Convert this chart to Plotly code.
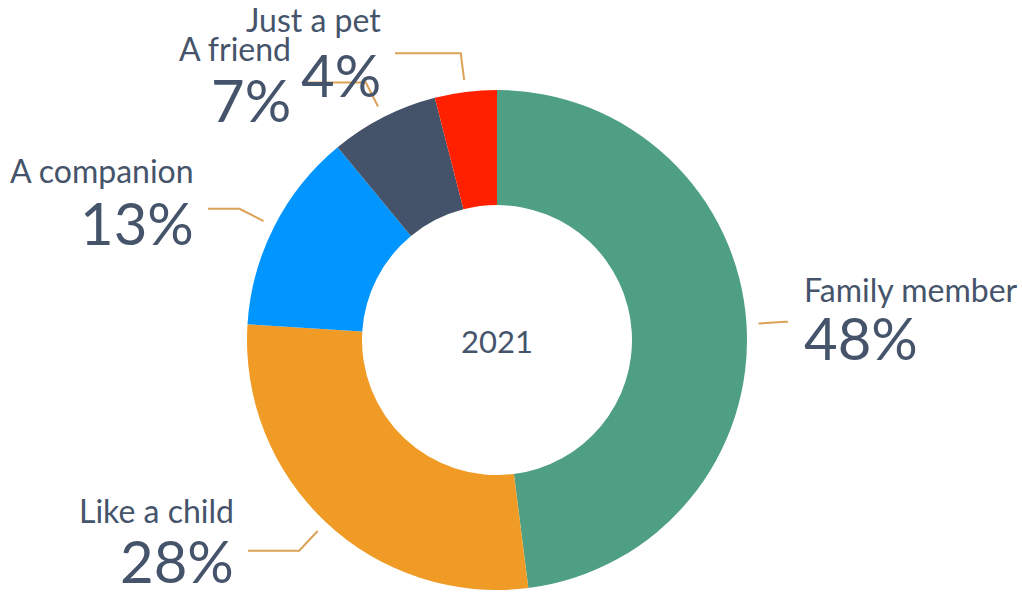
import math
import plotly.graph_objects as go

# Survey answers: how owners see their pet (2021)
categories = ["Family member", "Like a child", "A companion", "A friend", "Just a pet"]
shares = [48, 28, 13, 7, 4]
center_label = "2021"

slice_colors = ["#4e9f84", "#f09b26", "#0095ff", "#45536a", "#ff2000"]
text_color = "#45546b"
leader_color = "#d9a257"

W, H = 1022, 595
CX, CY, R_OUT, R_IN = 497, 340, 250, 135
NAME_SIZE, PCT_SIZE = 32, 58

# label layout: end of the horizontal leader, text anchor side, text baselines
label_layout = {
    "Family member": dict(hx=788, side="left", name_base=302, pct_base=360),
    "Like a child": dict(hx=248, side="right", name_base=523, pct_base=583),
    "A companion": dict(hx=208, side="right", name_base=183, pct_base=245),
    "A friend": dict(hx=305, side="right", name_base=61, pct_base=122, tx=292),
    "Just a pet": dict(hx=395, side="right", name_base=32, pct_base=97),
}


def px(x):
    return x / W


def py(y):
    return 1 - y / H


def mid_from_base(base, size):
    # centre of the text box for a given baseline (Lato metrics)
    return base - 0.387 * size


fig = go.Figure(
    go.Pie(
        labels=categories,
        values=shares,
        hole=R_IN / R_OUT,
        sort=False,
        direction="clockwise",
        rotation=0,
        marker=dict(colors=slice_colors, line=dict(width=0)),
        textinfo="none",
        hoverinfo="label+percent",
        showlegend=False,
        domain=dict(x=[px(CX - R_OUT), px(CX + R_OUT)], y=[py(CY + R_OUT), py(CY - R_OUT)]),
    )
)

shapes = []
annotations = []
total = sum(shares)
cum = 0.0
for name, v in zip(categories, shares):
    mid = (cum + v / 2) / total
    cum += v
    th = 2 * math.pi * mid
    sx, sy = math.sin(th), -math.cos(th)
    x1, y1 = CX + 262 * sx, CY + 262 * sy
    x2, y2 = CX + 289 * sx, CY + 289 * sy
    lay = label_layout[name]
    hx = lay["hx"]
    shapes.append(
        dict(
            type="path",
            xref="paper",
            yref="paper",
            path=f"M {px(x1)} {py(y1)} L {px(x2)} {py(y2)} L {px(hx)} {py(y2)}",
            line=dict(color=leader_color, width=2),
            layer="above",
        )
    )
    if lay["side"] == "left":
        tx = hx + 15
        anchor = "left"
    else:
        tx = lay.get("tx", hx - 13)
        anchor = "right"
    annotations.append(
        dict(
            x=px(tx), y=py(mid_from_base(lay["name_base"], NAME_SIZE)), xref="paper", yref="paper",
            text=name, showarrow=False, xanchor=anchor, yanchor="middle", borderpad=0,
            font=dict(family="Lato", size=NAME_SIZE, color=text_color),
        )
    )
    annotations.append(
        dict(
            x=px(tx), y=py(mid_from_base(lay["pct_base"], PCT_SIZE)), xref="paper", yref="paper",
            text=f"{v}%", showarrow=False, xanchor=anchor, yanchor="middle", borderpad=0,
            font=dict(family="Lato", size=PCT_SIZE, color=text_color),
        )
    )

annotations.append(
    dict(
        x=px(CX), y=py(mid_from_base(353, 31)), xref="paper", yref="paper",
        text=center_label, showarrow=False, xanchor="center", yanchor="middle",
        font=dict(family="Lato", size=31, color=text_color),
    )
)

fig.update_layout(
    width=W,
    height=H,
    margin=dict(l=0, r=0, t=0, b=0),
    paper_bgcolor="white",
    plot_bgcolor="white",
    shapes=shapes,
    annotations=annotations,
)

fig.write_html("out.html", config={"displayModeBar": False})
